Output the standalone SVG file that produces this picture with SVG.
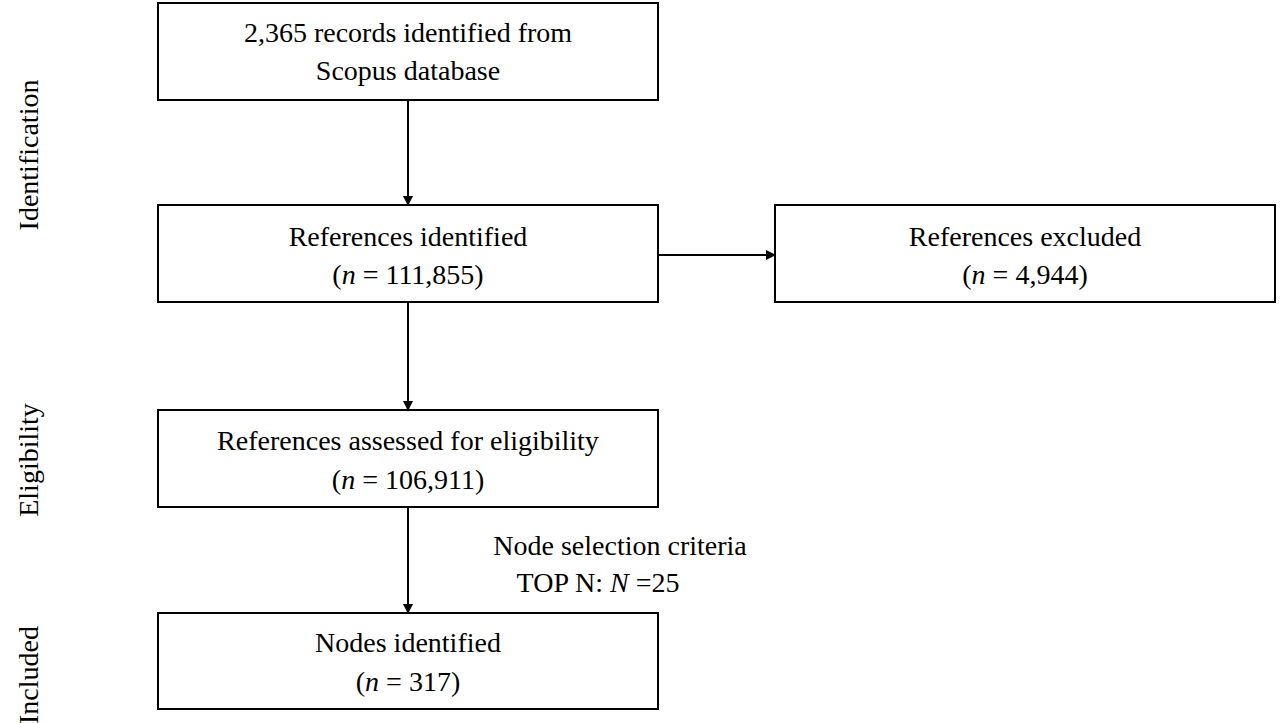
<svg xmlns="http://www.w3.org/2000/svg" width="1280" height="723" viewBox="0 0 1280 723">
<style>
.b{fill:#fff;stroke:#000;stroke-width:2}
text{font-family:"Liberation Serif","Times New Roman",serif;font-size:28px;fill:#000}
.c{text-anchor:middle}
.l{stroke:#000;stroke-width:2;fill:none;marker-end:url(#a)}
</style>
<defs><marker id="a" markerWidth="10" markerHeight="10" refX="9" refY="5" orient="auto" markerUnits="userSpaceOnUse"><path d="M0,0 L10,5 L0,10 z"/></marker></defs>
<rect width="1280" height="723" fill="#fff"/>
<text class="c" transform="translate(38,155) rotate(-90)">Identification</text>
<text class="c" transform="translate(38,460) rotate(-90)">Eligibility</text>
<text class="c" transform="translate(38,675) rotate(-90)">Included</text>
<g id="connectors">
<line class="l" x1="408" y1="100" x2="408" y2="205"/>
<line class="l" x1="658" y1="255" x2="775" y2="255"/>
<line class="l" x1="408" y1="302" x2="408" y2="410"/>
<line class="l" x1="408" y1="507" x2="408" y2="613"/>
</g>
<g id="n1"><rect class="b" x="158" y="3" width="500" height="97"/>
<text class="c" x="408" y="42">2,365 records identified from</text><text class="c" x="408" y="80">Scopus database</text></g>
<g id="n2"><rect class="b" x="158" y="205" width="500" height="97"/>
<text class="c" x="408" y="246">References identified</text><text class="c" x="408" y="284">(<tspan font-style="italic">n</tspan> = 111,855)</text></g>
<g id="n3"><rect class="b" x="775" y="205" width="500" height="97"/>
<text class="c" x="1025" y="246">References excluded</text><text class="c" x="1025" y="284">(<tspan font-style="italic">n</tspan> = 4,944)</text></g>
<g id="n4"><rect class="b" x="158" y="410" width="500" height="97"/>
<text class="c" x="408" y="450">References assessed for eligibility</text><text class="c" x="408" y="489">(<tspan font-style="italic">n</tspan> = 106,911)</text></g>
<g id="n5"><rect class="b" x="158" y="613" width="500" height="96"/>
<text class="c" x="408" y="652">Nodes identified</text><text class="c" x="408" y="691">(<tspan font-style="italic">n</tspan> = 317)</text></g>
<text class="c" x="620" y="555">Node selection criteria</text>
<text class="c" x="598" y="592">TOP N: <tspan font-style="italic">N</tspan> =25</text>
</svg>
